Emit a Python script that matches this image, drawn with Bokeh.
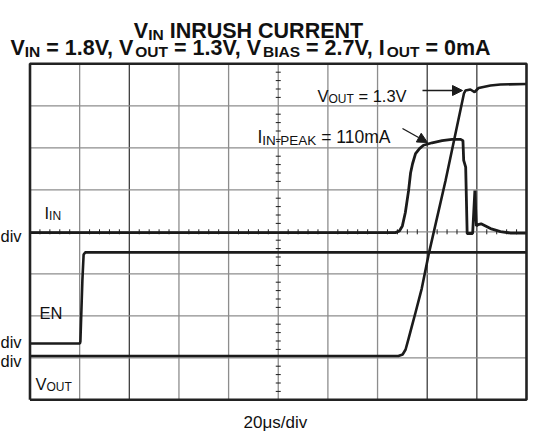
from bokeh.plotting import figure
from bokeh.models import ColumnDataSource, Arrow, NormalHead, Range1d
from bokeh.core.properties import value
from bokeh.embed import file_html
from bokeh.resources import INLINE

# ---------------- data (read from the scope shot) ----------------
TIME_PER_DIV_US = 20
N_DIV_X, N_DIV_Y = 10, 8

# channel scale (units per division) and ground offset (divisions from bottom)
IIN_SCALE_MA, IIN_OFFSET_DIV = 50.0, 3.98
EN_SCALE_V, EN_OFFSET_DIV = 1.0, 1.34
VOUT_SCALE_V, VOUT_OFFSET_DIV = 0.2, 1.043

IIN_T_US = [0, 147.2, 148.8, 150.0, 151.2, 152.5, 153.3, 154.1, 155.3, 156.9, 158.5,
            162.0, 166.0, 170.0, 173.5, 174.4, 174.7, 175.5, 176.1, 178.3, 179.2,
            179.8, 180.5, 181.7, 185.5, 189.5, 193.6, 200]
IIN_MA = [0, 0, 2, 8, 24, 50, 71, 82, 94, 100, 104,
          107, 109.5, 111, 111, 109.5, 86, 78, -1, -1, 50,
          8, 9.5, 10.5, 4.8, 1.2, -0.5, -0.5]

EN_T_US = [0, 20.1, 20.3, 21.1, 21.6, 22.3, 200]
EN_V = [0, 0, 0.05, 1.5, 2.12, 2.17, 2.17]

VOUT_T_US = [0, 148.4, 150.1, 151.3, 152.5, 153.7, 155.3, 157.8, 160.5, 167.4,
             174.8, 175.4, 177.4, 179.1, 180.7, 185.5, 189.5, 200]
VOUT_V = [0, 0, 0.007, 0.031, 0.083, 0.136, 0.207, 0.321, 0.479, 0.836,
          1.25, 1.264, 1.269, 1.257, 1.276, 1.288, 1.293, 1.295]

TITLE_1 = [("V", False), ("IN", True), (" INRUSH CURRENT", False)]
TITLE_2 = [("V", False), ("IN", True), (" = 1.8V, V", False), ("OUT", True),
           (" = 1.3V, V", False), ("BIAS", True), (" = 2.7V, I", False),
           ("OUT", True), (" = 0mA", False)]
LBL_VOUT_FINAL = [("V", False), ("OUT", True), (" = 1.3V", False)]
LBL_IIN_PEAK = [("I", False), ("IN-PEAK", True), (" = 110mA", False)]
LBL_IIN = [("I", False), ("IN", True)]
LBL_EN = [("EN", False)]
LBL_VOUT = [("V", False), ("OUT", True)]
LBL_DIV = [("div", False)]
LBL_TIME = [("20\u03bcs/div", False)]

# ---------------- layout ----------------
W, H = 528, 432
FR_L, FR_R = 29.5, 526
FR_T, FR_B = 63.3, 399.3
T_SPAN = TIME_PER_DIV_US * N_DIV_X
PX_US = (FR_R - FR_L) / T_SPAN
PX_DIV = (FR_B - FR_T) / N_DIV_Y
X0 = -FR_L / PX_US
X1 = T_SPAN + (W - FR_R) / PX_US
Y0 = -(H - FR_B) / PX_DIV
Y1 = N_DIV_Y + FR_T / PX_DIV


def sx(px):
    return px / PX_US + X0


def sy(py):
    return Y1 - py / PX_DIV


p = figure(width=W, height=H, x_range=Range1d(X0, X1), y_range=Range1d(Y0, Y1),
           output_backend="svg", toolbar_location=None, title=None,
           x_axis_location=None, y_axis_location=None, min_border=0)
p.grid.visible = False
p.outline_line_color = None
p.background_fill_color = "white"
p.border_fill_color = "white"

GRID = "#8d8d8d"
DARK = "#2e2e2e"
INK = "#1b1b1b"
DARK_LINES_US = [40, 160, 180]

# grid
vx = [i * TIME_PER_DIV_US for i in range(1, N_DIV_X)]
light = [t for t in vx if t not in DARK_LINES_US]
dark = [t for t in vx if t in DARK_LINES_US]
p.multi_line([[t, t] for t in light], [[0, N_DIV_Y]] * len(light), line_color=GRID, line_width=1.3)
p.multi_line([[t, t] for t in dark], [[0, N_DIV_Y]] * len(dark), line_color=DARK, line_width=1.2)
hy = list(range(1, N_DIV_Y))
p.multi_line([[0, T_SPAN]] * len(hy), [[d, d] for d in hy], line_color=GRID, line_width=1.3)

# centre-line minor ticks
xc, yc = T_SPAN / 2, N_DIV_Y / 2
hx = 2.5 / PX_US
hv = 2.5 / PX_DIV
ty = [k * 0.2 for k in range(1, N_DIV_Y * 5) if k % 5]
p.multi_line([[xc - hx, xc + hx] for _ in ty], [[v, v] for v in ty], line_color=INK, line_width=1)
tx = [k * TIME_PER_DIV_US / 5 for k in range(1, N_DIV_X * 5) if k % 5]
p.multi_line([[v, v] for v in tx], [[yc - hv, yc + hv] for _ in tx], line_color=INK, line_width=1)


# traces
def to_div(vals, scale, off):
    return [off + v / scale for v in vals]


p.line(EN_T_US, to_div(EN_V, EN_SCALE_V, EN_OFFSET_DIV), line_color=INK, line_width=2.6)
p.line(VOUT_T_US, to_div(VOUT_V, VOUT_SCALE_V, VOUT_OFFSET_DIV), line_color=INK, line_width=2.6)
p.line(IIN_T_US, to_div(IIN_MA, IIN_SCALE_MA, IIN_OFFSET_DIV), line_color=INK, line_width=2.8)

# frame border
p.line([0, T_SPAN, T_SPAN, 0, 0], [0, 0, N_DIV_Y, N_DIV_Y, 0], line_color="#222222", line_width=2.6)

# ---------------- rich text helper ----------------
AR = {' ': 278, '=': 584, '.': 278, ',': 278, 'V': 667, 'I': 278, 'N': 722, 'O': 778,
      'U': 722, 'T': 611, 'B': 667, 'A': 667, 'S': 667, 'P': 667, 'E': 667, 'K': 667,
      'm': 833, 'a': 556, '-': 333, 'd': 556, 'i': 222, 'v': 500, 's': 500, '/': 278,
      '\u03bc': 576, 'R': 722, 'H': 722, 'C': 722}
ARB = {' ': 278, '=': 584, '.': 278, ',': 278, 'V': 667, 'I': 278, 'N': 722, 'O': 778,
       'U': 722, 'T': 611, 'B': 722, 'A': 722, 'S': 667, 'R': 722, 'H': 722, 'C': 722,
       'E': 667, 'm': 889}
for c in "0123456789":
    AR[c] = 556
    ARB[c] = 556

groups = {}


def width(s, size, bold):
    tb = ARB if bold else AR
    return sum(tb.get(c, 556) for c in s) * size / 1000.0


def rich(runs, x, base, size, bold=False, align="left", sub_size=None, drop=None):
    sub_size = sub_size or round(size * 0.72 * 2) / 2
    drop = drop if drop is not None else size * 0.2
    total = sum(width(t, sub_size if s else size, bold) for t, s in runs)
    cx = x - total / 2 if align == "center" else x
    for t, s in runs:
        fs = sub_size if s else size
        lead = len(t) - len(t.lstrip(" "))
        cx += width(" " * lead, fs, bold)
        body = t.strip(" ")
        key = (fs, bold)
        g = groups.setdefault(key, {"x": [], "y": [], "text": []})
        g["x"].append(sx(cx))
        g["y"].append(sy(base + (drop if s else 0)))
        g["text"].append(body)
        cx += width(t.lstrip(" "), fs, bold)


rich(TITLE_1, 248, 30, 21.5, bold=True, align="center")
rich(TITLE_2, 250, 47, 21.5, bold=True, align="center")
rich(LBL_VOUT_FINAL, 317, 95, 16.5)
rich(LBL_IIN_PEAK, 257, 136, 17.5, sub_size=13.5)
rich(LBL_IIN, 44, 212, 16.5)
rich(LBL_EN, 39, 312, 16.5)
rich(LBL_VOUT, 35, 383, 16.5)
for b in (235, 341, 360):
    rich(LBL_DIV, 0, b, 16.5)
rich(LBL_TIME, 243, 422, 17)

for (fs, bold), g in groups.items():
    p.text(x="x", y="y", text="text", source=ColumnDataSource(g),
           text_font=value("Liberation Sans"), text_font_size=f"{fs}px",
           text_font_style="bold" if bold else "normal", text_color="#111111",
           text_baseline="alphabetic", text_align="left")

# annotation arrows
p.add_layout(Arrow(end=NormalHead(size=10, fill_color=INK, line_color=INK),
                   x_start=sx(422), y_start=sy(90), x_end=sx(462), y_end=sy(90),
                   line_color=INK, line_width=1.4))
p.add_layout(Arrow(end=NormalHead(size=10, fill_color=INK, line_color=INK),
                   x_start=sx(402), y_start=sy(128), x_end=sx(427), y_end=sy(142),
                   line_color=INK, line_width=1.4))

open("out.html", "w").write(file_html(p, INLINE))
